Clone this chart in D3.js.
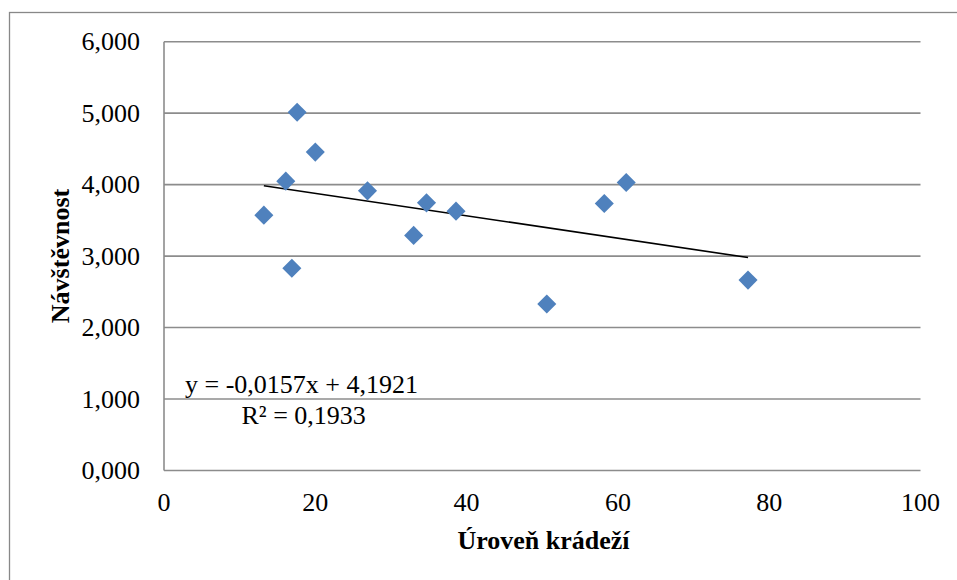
<!DOCTYPE html>
<html>
<head>
<meta charset="utf-8">
<script src="https://cdn.jsdelivr.net/npm/d3@7"></script>
<style>
  body { margin: 0; background: #fff; }
  text { font-family: "Liberation Serif", "Times New Roman", serif; }
</style>
</head>
<body>
<svg id="chart" width="957" height="580"></svg>
<script>
// values (y in thousands, shown with 3 decimals)
var theft = [13.2, 16.1, 16.9, 17.6, 20.0, 26.9, 33.0, 34.7, 38.6, 50.6, 58.2, 61.1, 77.2];
var visits = [3.573, 4.049, 2.830, 5.014, 4.455, 3.913, 3.290, 3.745, 3.629, 2.329, 3.737, 4.031, 2.664];
var xTicks = [0, 20, 40, 60, 80, 100];
var yTicks = [0, 1, 2, 3, 4, 5, 6];
var trendSlope = -0.0157, trendIntercept = 4.1921;
var eqLabel = "y = -0,0157x + 4,1921";
var r2Label = "R² = 0,1933";

var chart = d3.select('#chart');

var xs = d3.scaleLinear().domain([0, 100]).range([164, 920.5]);
var ys = d3.scaleLinear().domain([0, 6]).range([470.5, 41.7]);

// outer frame
chart.append("rect")
    .attr("x", 9.5).attr("y", 12.5)
    .attr("width", 960).attr("height", 600)
    .attr("fill", "none")
    .attr("stroke", "#888")
    .attr("stroke-width", 1.3);

// gridlines
chart.append("g")
    .selectAll("line")
    .data(yTicks)
    .enter()
    .append("line")
        .attr("x1", xs(0))
        .attr("x2", xs(100))
        .attr("y1", d => ys(d))
        .attr("y2", d => ys(d))
        .attr("stroke", "#8c8c8c")
        .attr("stroke-width", 1.6);

// y axis line
chart.append("line")
    .attr("x1", xs(0)).attr("x2", xs(0))
    .attr("y1", ys(0)).attr("y2", ys(6))
    .attr("stroke", "#8c8c8c")
    .attr("stroke-width", 1.6);

var fmt = d => d3.format(".3f")(d).replace(".", ",");

// y tick labels
chart.append("g")
    .selectAll("text")
    .data(yTicks)
    .enter()
    .append("text")
        .attr("x", 140)
        .attr("y", d => ys(d) + 8.5)
        .attr("text-anchor", "end")
        .style("font-size", "26px")
        .text(fmt);

// x tick labels
chart.append("g")
    .selectAll("text")
    .data(xTicks)
    .enter()
    .append("text")
        .attr("x", d => xs(d))
        .attr("y", 510.5)
        .attr("text-anchor", "middle")
        .style("font-size", "26px")
        .text(d => d);

// trend line
var tx = d3.extent(theft);
chart.append("line")
    .attr("x1", xs(tx[0])).attr("y1", ys(trendSlope * tx[0] + trendIntercept))
    .attr("x2", xs(tx[1])).attr("y2", ys(trendSlope * tx[1] + trendIntercept))
    .attr("stroke", "#000")
    .attr("stroke-width", 1.6);

// points
var pts = theft.map((d, i) => ({x: d, y: visits[i]}));
chart.append("g")
    .selectAll("path")
    .data(pts)
    .enter()
    .append("path")
        .attr("d", d3.symbol().type(d3.symbolSquare).size(182))
        .attr("transform", d => "translate(" + xs(d.x) + "," + ys(d.y) + ") rotate(45)")
        .attr("fill", "#4f81bd");

// equation
chart.append("text")
    .attr("x", 185).attr("y", 393)
    .style("font-size", "26px")
    .text(eqLabel);
chart.append("text")
    .attr("x", 241.5).attr("y", 423.5)
    .style("font-size", "26px")
    .text(r2Label);

// axis titles
chart.append("text")
    .attr("x", 543.5).attr("y", 549)
    .attr("text-anchor", "middle")
    .style("font-size", "26px")
    .style("font-weight", "bold")
    .text("Úroveň krádeží");

chart.append("text")
    .attr("transform", "translate(69,256) rotate(-90)")
    .attr("text-anchor", "middle")
    .style("font-size", "26px")
    .style("font-weight", "bold")
    .text("Návštěvnost");
</script>
</body>
</html>
